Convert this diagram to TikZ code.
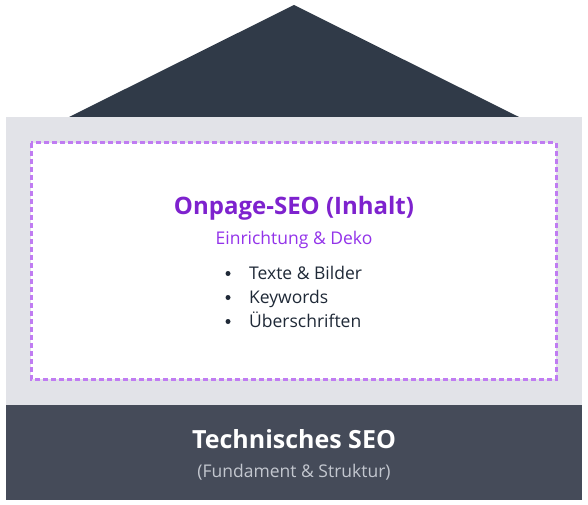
\documentclass[tikz,border=0pt]{standalone}
\usepackage{fontspec}
\setmainfont{Open Sans}
\usepackage{tikz}
\usetikzlibrary{positioning}

\definecolor{roofgray}{HTML}{303A48}
\definecolor{wallgray}{HTML}{E2E3E8}
\definecolor{basegray}{HTML}{454B59}
\definecolor{dashpurple}{HTML}{C07CF2}
\definecolor{titlepurple}{HTML}{7E22CE}
\definecolor{subpurple}{HTML}{9333EA}
\definecolor{textdark}{HTML}{1F2937}
\definecolor{subgray}{HTML}{C3C7CF}

\tikzset{
  title/.style={font=\fontsize{24}{28}\selectfont\bfseries, text=titlepurple, inner sep=0pt, anchor=base},
  subtitle/.style={font=\fontsize{17.5}{21}\selectfont, text=subpurple, inner sep=0pt, anchor=base},
  item/.style={font=\fontsize{17.5}{21}\selectfont, text=textdark, inner sep=0pt, anchor=base west},
  dot/.style={circle, fill=textdark, inner sep=0pt, minimum size=5pt},
  basetitle/.style={font=\fontsize{25}{29}\selectfont\bfseries, text=white, inner sep=0pt, anchor=base},
  basesub/.style={font=\fontsize{17.5}{21}\selectfont, text=subgray, inner sep=0pt, anchor=base}
}

\begin{document}
\begin{tikzpicture}[x=1pt, y=-1pt]
  \useasboundingbox (0,0) rectangle (588,505);

  % roof, wall and foundation
  \fill[roofgray] (69,117) -- (294,5) -- (519,117) -- cycle;
  \fill[wallgray] (6,117) rectangle (582,405);
  \fill[basegray] (6,405) rectangle (582,500);
  \draw[dashpurple, line width=3pt, dash pattern=on 5pt off 3pt, fill=white]
       (31,143) rectangle (556,379);

  % onpage content
  \node[title] (onpage) at (294,214) {Onpage-SEO (Inhalt)};
  \node[subtitle] (deko) at (294,244) {Einrichtung \& Deko};
  \foreach \t [count=\i] in {Texte \& Bilder, Keywords, Überschriften}
  {
    \node[item] (b\i) at (249,255+24*\i) {\t};
    \node[dot] (dot\i) at ([xshift=-21pt, yshift=5.5pt]b\i.base west) {};
  }

  % foundation text
  \node[basetitle] (tech) at (294,448) {Technisches SEO};
  \node[basesub] (fund) at (294,477) {(Fundament \& Struktur)};
\end{tikzpicture}
\end{document}
